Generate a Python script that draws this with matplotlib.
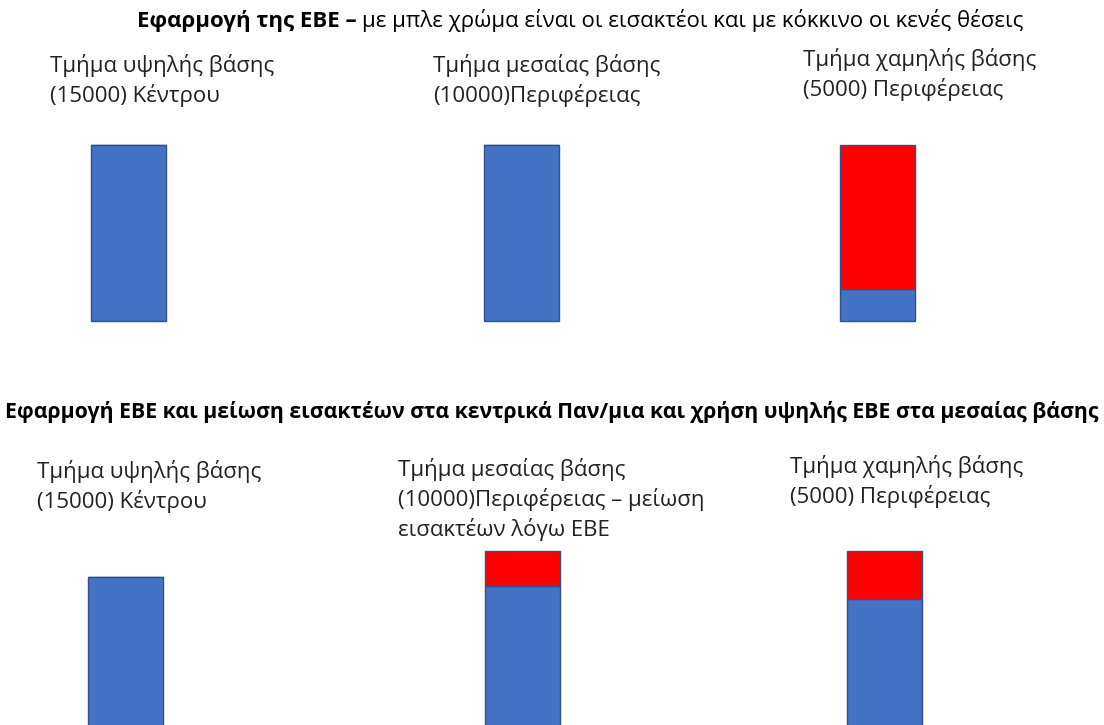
import matplotlib
matplotlib.use("Agg")
from matplotlib import pyplot as plt

# values as % of places in each department (blue = admitted, red = empty places)
departments = ["υψηλής", "μεσαίας", "χαμηλής"]
top_admitted = [100, 100, 18]
top_empty = [0, 0, 82]
bottom_admitted = [85, 80, 73]
bottom_empty = [0, 20, 27]

top_labels = [
    "Τμήμα υψηλής βάσης\n(15000) Κέντρου",
    "Τμήμα μεσαίας βάσης\n(10000)Περιφέρειας",
    "Τμήμα χαμηλής βάσης\n(5000) Περιφέρειας",
]
bottom_labels = [
    "Τμήμα υψηλής βάσης\n(15000) Κέντρου",
    "Τμήμα μεσαίας βάσης\n(10000)Περιφέρειας – μείωση\nεισακτέων λόγω ΕΒΕ",
    "Τμήμα χαμηλής βάσης\n(5000) Περιφέρειας",
]
title1_bold = "Εφαρμογή της ΕΒΕ – "
title1_rest = "με μπλε χρώμα είναι οι εισακτέοι και με κόκκινο οι κενές θέσεις"
title2 = "Εφαρμογή ΕΒΕ και μείωση εισακτέων στα κεντρικά Παν/μια και χρήση υψηλής ΕΒΕ στα μεσαίας βάσης"

W, H = 1104, 725
BLUE = "#4472C4"
RED = "#FF0000"
EDGE = "#2F528F"
plt.rcParams["font.family"] = ["Open Sans", "DejaVu Sans"]

fig = plt.figure(figsize=(W / 100, H / 100), dpi=100)


def fx(x):
    return x / W


def fy(y):
    return 1 - y / H


def bar_row(ytop, ybot, centers, admitted, empty):
    ax = fig.add_axes([0, fy(ybot), 1, (ybot - ytop) / H])
    ax.set_xlim(0, W)
    ax.set_ylim(0, 100)
    ax.axis("off")
    ax.bar(centers, admitted, width=75, color=BLUE, edgecolor=EDGE, linewidth=1, clip_on=False)
    ax.bar(centers, empty, bottom=admitted, width=75, color=RED, edgecolor=EDGE, linewidth=1, clip_on=False)
    return ax


bar_row(145, 321, [128.5, 521.5, 877], top_admitted, top_empty)
bar_row(551, 727, [125, 522, 884.5], bottom_admitted, bottom_empty)

fs = 16
for x, y, t in zip([50, 433, 803], [54, 54, 48], top_labels):
    fig.text(fx(x), fy(y), t, fontsize=fs, va="top", ha="left", linespacing=1.38, color="#222222")
for x, y, t in zip([37, 398, 790], [460, 458, 455], bottom_labels):
    fig.text(fx(x), fy(y), t, fontsize=fs, va="top", ha="left", linespacing=1.38, color="#222222")

# first title: bold part + regular part, centered together
r = fig.canvas.get_renderer()
tb = fig.text(0, fy(21), title1_bold, fontsize=16, fontweight="bold", va="center", ha="left")
tr = fig.text(0, fy(21), title1_rest, fontsize=16, va="center", ha="left")
wb = tb.get_window_extent(r).width
wr = tr.get_window_extent(r).width
x0 = 580 - (wb + wr) / 2
tb.set_x(fx(x0))
tr.set_x(fx(x0 + wb))

fig.text(fx(552), fy(412), title2, fontsize=15.3, fontweight="bold", va="center", ha="center")

fig.savefig("out.png", dpi=100, facecolor="white")
